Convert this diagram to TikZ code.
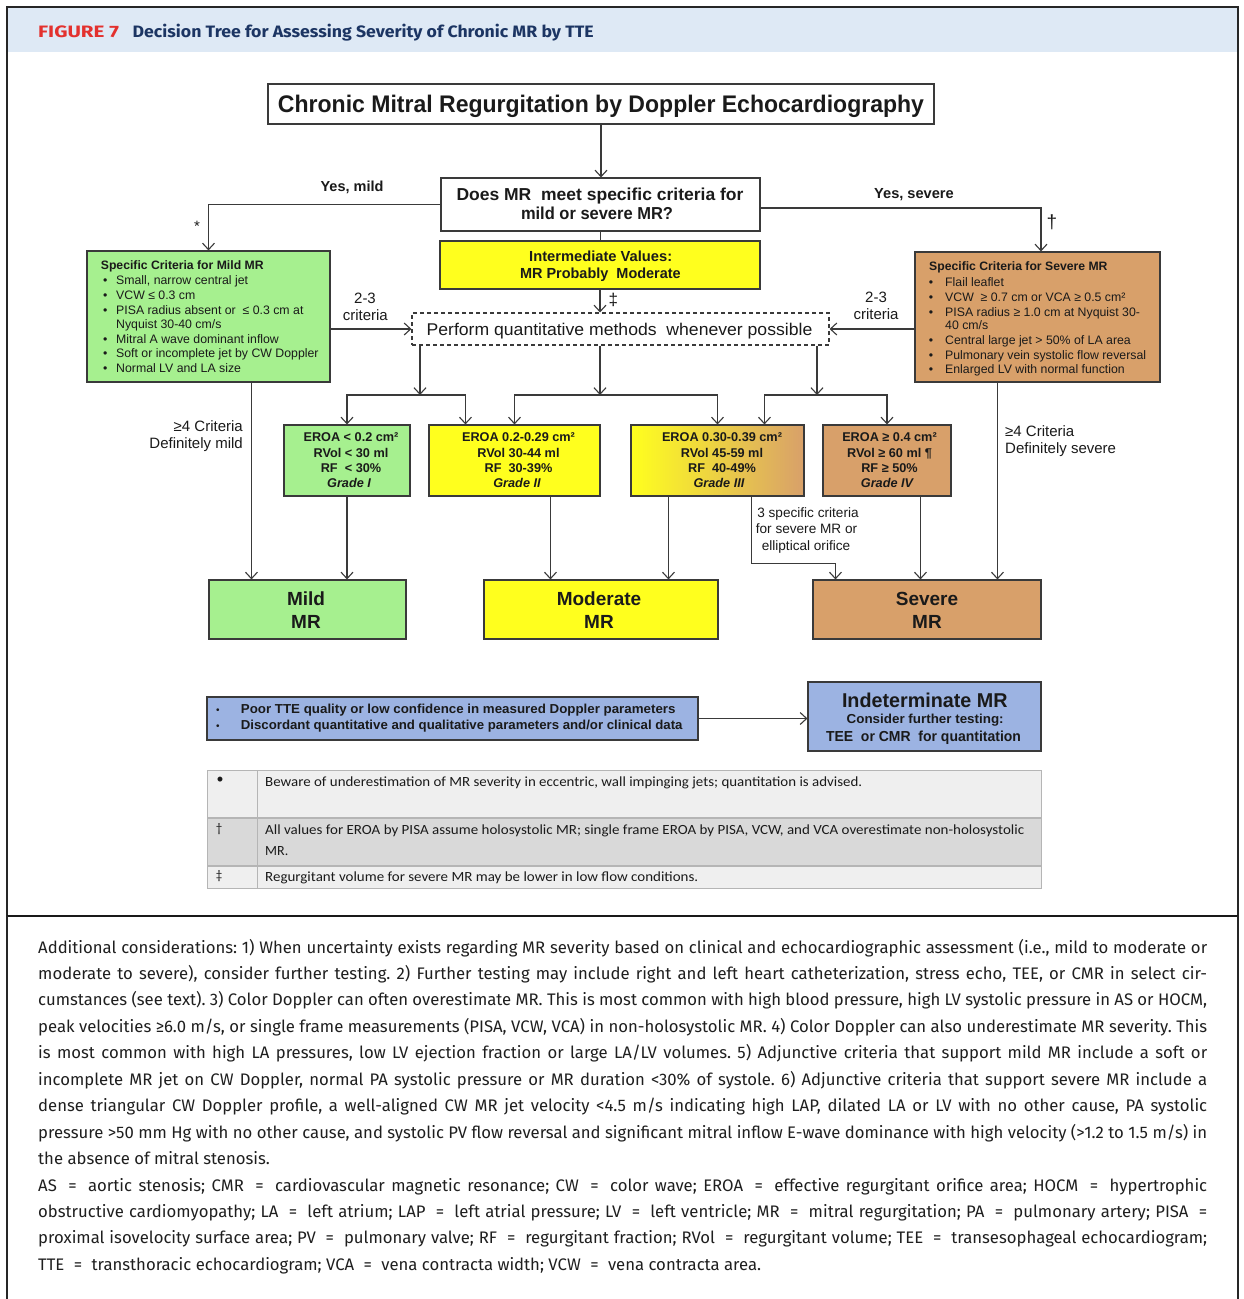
\documentclass[tikz,border=0pt]{standalone}
\usepackage{fontspec}
\usepackage{graphicx}
\setmainfont{Liberation Sans}
\newfontfamily\capfont{Fira Sans}
\newfontfamily\tabfont{Carlito}
\usetikzlibrary{arrows.meta,calc}

\definecolor{mrgreen}{HTML}{A6F08F}
\definecolor{mryellow}{HTML}{FFFF1E}
\definecolor{mrorange}{HTML}{D8A06A}
\definecolor{mrblue}{HTML}{9CB3E2}
\definecolor{hdband}{HTML}{DEE9F5}
\definecolor{hdred}{HTML}{E3312E}
\definecolor{hdnavy}{HTML}{1C3563}
\definecolor{lnc}{HTML}{3A3A3A}
\definecolor{txc}{HTML}{1A1A1A}
\definecolor{tabA}{HTML}{EFEFEF}
\definecolor{tabB}{HTML}{D9D9D9}
\definecolor{tabline}{HTML}{B5B5B5}

% stretch a line of text to a given width, keeping its height
\newcommand\fw[2]{\resizebox{#1pt}{\height}{#2}}
% bullet hanging to the left of a text line
\newcommand\bu[1]{\llap{\makebox[#1pt][l]{\textbullet}}}
% justified caption line
\newcommand\jl[1]{\hbox to 1169pt{\frenchspacing\spaceskip=0.25em plus 1fil minus 0.13em\relax #1}}
% spaced equals sign for the abbreviation list
\newcommand\eqs{\ \kern0.3em=\kern0.3em\ }

\tikzset{
  lnbase/.style={draw=lnc, line width=1.1pt},
  arr/.style={lnbase, -{Straight Barb[length=6.5pt,width=12pt]}},
  mrbox/.style={draw=lnc, line width=1.1pt, inner sep=0pt},
  sz/.style 2 args={minimum width=#1pt, minimum height=#2pt},
  tx/.style={inner sep=0pt, text=txc},
  lbl/.style={tx, font=\fontsize{15}{18}\selectfont},
  crit/.style={tx, anchor=base west, font=\fontsize{12.3}{14}\selectfont},
  grd/.style={tx, anchor=base, font=\bfseries\fontsize{12.7}{15}\selectfont},
  outc/.style={tx, anchor=base, font=\bfseries\fontsize{19}{22}\selectfont},
  tabtx/.style={tx, anchor=base west, font=\tabfont\fontsize{14}{16}\selectfont},
  capl/.style={inner sep=0pt, anchor=base west, text=black!88, font=\capfont\fontsize{16.7}{20}\selectfont\frenchspacing},
}

\begin{document}
\begin{tikzpicture}[x=1pt,y=-1pt]
\useasboundingbox (0,0) rectangle (1244,1299);
\fill[white] (0,0) rectangle (1244,1299);

% ---------- frame and header ----------
\fill[hdband] (8,8) rectangle (1237,52);
\draw[line width=1.4pt, black!85] (7,7) rectangle (1238,916);
\draw[line width=2.4pt, black!90] (7,916) -- (1238,916);
\draw[line width=1.4pt, black!85] (7,916) -- (7,1299) (1238,916) -- (1238,1299);

\node[inner sep=0pt, anchor=base west, text=hdred] (hfig) at (38,37)
  {\fw{80.8}{\capfont\bfseries\fontsize{16.5}{20}\selectfont FIGURE 7}};
\node[inner sep=0pt, anchor=base west, text=hdnavy] (htitle) at (132.5,37)
  {\fw{461}{\capfont\bfseries\fontsize{16.5}{20}\selectfont Decision Tree for Assessing Severity of Chronic MR by TTE}};

% ---------- boxes ----------
\node[mrbox, fill=white, sz={666}{40}] (title) at (601,104) {};
\node[mrbox, fill=white, sz={319}{53}] (q) at (600.5,204.5) {};
\node[mrbox, fill=mryellow, sz={320}{48}] (inter) at (600,265) {};
\node[mrbox, dash pattern=on 4pt off 3pt, sz={417}{32}] (quant) at (620.5,329) {};
\node[mrbox, fill=mrgreen, sz={243}{131}] (mildc) at (208.5,316.5) {};
\node[mrbox, fill=mrorange, sz={245}{130}] (sevc) at (1037.5,317) {};

\node[mrbox, fill=mrgreen, sz={126}{71}] (g1) at (347,460.5) {};
\node[mrbox, fill=mryellow, sz={171}{71}] (g2) at (514.5,460.5) {};
\node[mrbox, left color=mryellow, right color=mrorange, sz={173}{71}] (g3) at (717.5,460.5) {};
\node[mrbox, fill=mrorange, sz={128}{71}] (g4) at (887,460.5) {};

\node[mrbox, fill=mrgreen, sz={197}{59}] (mild) at (307.5,609.5) {};
\node[mrbox, fill=mryellow, sz={234}{59}] (moder) at (601,609.5) {};
\node[mrbox, fill=mrorange, sz={228}{59}] (severe) at (927,609.5) {};

\node[mrbox, fill=mrblue, sz={491}{43}] (blue) at (452.5,718.5) {};
\node[mrbox, fill=mrblue, sz={233}{69}] (indet) at (924.5,716.5) {};

% ---------- box texts ----------
\node[tx, anchor=base] (titleT) at (601,112.6)
  {\fw{646}{\bfseries\fontsize{24}{28}\selectfont Chronic Mitral Regurgitation by Doppler Echocardiography}};
\node[tx, anchor=base] (qT1) at (600,200.4)
  {\fw{287}{\bfseries\fontsize{17.3}{20}\selectfont Does MR\ \ meet specific criteria for}};
\node[tx, anchor=base] (qT2) at (597,219.4)
  {\fw{152}{\bfseries\fontsize{17.3}{20}\selectfont mild or severe MR?}};
\node[tx, anchor=base] (interT1) at (600.7,261.7)
  {\fw{143}{\bfseries\fontsize{14.6}{17}\selectfont Intermediate Values:}};
\node[tx, anchor=base] (interT2) at (600.4,278.3)
  {\fw{160.7}{\bfseries\fontsize{14.6}{17}\selectfont MR Probably\ \ Moderate}};
\node[tx, anchor=base] (quantT) at (619.5,335)
  {\fw{385.7}{\fontsize{17}{20}\selectfont Perform quantitative methods\ \ whenever possible}};

% criteria for mild MR
\node[crit, font=\bfseries\fontsize{12.2}{14}\selectfont] (mcT) at (100.7,269.5) {Specific Criteria for Mild MR};
\node[crit] (mc1) at (116,284) {\bu{13}Small, narrow central jet};
\node[crit] (mc2) at (116,299) {\bu{13}VCW ≤ 0.3 cm};
\node[crit] (mc3) at (116,314) {\bu{13}PISA radius absent or\ \ ≤ 0.3 cm at};
\node[crit] (mc4) at (116,328) {Nyquist 30-40 cm/s};
\node[crit] (mc5) at (116,343) {\bu{13}Mitral A wave dominant inflow};
\node[crit] (mc6) at (116,357.5) {\bu{13}Soft or incomplete jet by CW Doppler};
\node[crit] (mc7) at (116,372) {\bu{13}Normal LV and LA size};

% criteria for severe MR
\node[crit, font=\bfseries\fontsize{12.2}{14}\selectfont] (scT) at (929,270) {Specific Criteria for Severe MR};
\node[crit] (sc1) at (945,286) {\bu{16.4}Flail leaflet};
\node[crit] (sc2) at (945,301) {\bu{16.4}VCW\ \ ≥ 0.7 cm or VCA ≥ 0.5 cm²};
\node[crit] (sc3) at (945,316) {\bu{16.4}PISA radius ≥ 1.0 cm at Nyquist 30-};
\node[crit] (sc4) at (945,329.5) {40 cm/s};
\node[crit] (sc5) at (945,344) {\bu{16.4}Central large jet > 50\% of LA area};
\node[crit] (sc6) at (945,359) {\bu{16.4}Pulmonary vein systolic flow reversal};
\node[crit] (sc7) at (945,373) {\bu{16.4}Enlarged LV with normal function};

% grade boxes
\node[grd] (g1a) at (351,441.5) {EROA < 0.2 cm²};
\node[grd] (g1b) at (351,457) {RVol < 30 ml};
\node[grd] (g1c) at (351,472) {RF\ \ < 30\%};
\node[grd] (g1d) at (349,487) {\itshape Grade I};
\node[grd] (g2a) at (518.5,441.5) {EROA 0.2-0.29 cm²};
\node[grd] (g2b) at (518.5,457) {RVol 30-44 ml};
\node[grd] (g2c) at (518.5,472) {RF\ \ 30-39\%};
\node[grd] (g2d) at (517,487) {\itshape Grade II};
\node[grd] (g3a) at (722,441.5) {EROA 0.30-0.39 cm²};
\node[grd] (g3b) at (722,457) {RVol 45-59 ml};
\node[grd] (g3c) at (722,472) {RF\ \ 40-49\%};
\node[grd] (g3d) at (719,487) {\itshape Grade III};
\node[grd] (g4a) at (889.5,441.5) {EROA ≥ 0.4 cm²};
\node[grd] (g4b) at (889.5,457) {RVol ≥ 60 ml ¶};
\node[grd] (g4c) at (889.5,472) {RF ≥ 50\%};
\node[grd] (g4d) at (887,487) {\itshape Grade IV};

% outcome boxes
\node[outc] (mildT1) at (306,605.5) {Mild};
\node[outc] (mildT2) at (306,628.5) {MR};
\node[outc] (moderT1) at (599,605.5) {Moderate};
\node[outc] (moderT2) at (599,628.5) {MR};
\node[outc] (severeT1) at (927,605.5) {Severe};
\node[outc] (severeT2) at (927,628.5) {MR};

% indeterminate section
\node[tx, anchor=base west] (blue1) at (240.7,713.5)
  {\bu{24.8}\fw{434.6}{\bfseries\fontsize{13}{15}\selectfont Poor TTE quality or low confidence in measured Doppler parameters}};
\node[tx, anchor=base west] (blue2) at (240.7,729.5)
  {\bu{24.8}\fw{441.7}{\bfseries\fontsize{13}{15}\selectfont Discordant quantitative and qualitative parameters and/or clinical data}};
\node[tx, anchor=base] (indT1) at (924.8,707)
  {\fw{165.6}{\bfseries\fontsize{20}{23}\selectfont Indeterminate MR}};
\node[tx, anchor=base] (indT2) at (925.2,723.5)
  {\fw{157}{\bfseries\fontsize{13}{15}\selectfont Consider further testing:}};
\node[tx, anchor=base] (indT3) at (923.5,741)
  {\fw{195}{\bfseries\fontsize{14.5}{17}\selectfont TEE\ \ or CMR\ \ for quantitation}};

% ---------- connectors ----------
\draw[arr] (title.south) -- (q.north -| title.south);
\draw[arr] (q.west) -| (mildc.north);
\draw[arr] ([yshift=-3.5pt]q.east) -| ([xshift=3.5pt]sevc.north);
\draw[lnbase] (q.south) -- (q.south |- inter.north);
\draw[arr] (inter.south) -- (inter.south |- quant.north);
\draw[arr] (mildc.east |- quant.west) -- (quant.west);
\draw[arr] (sevc.west |- quant.east) -- (quant.east);

\coordinate (bA) at (420,395);
\coordinate (bB) at (600,395);
\coordinate (bC) at (817,395);
\draw[arr] (quant.south -| bA) -- (bA);
\draw[arr] (quant.south -| bB) -- (bB);
\draw[arr] (quant.south -| bC) -- (bC);
\draw[arr] (bA) -| (g1.north);
\draw[arr] (bA) -| ($(g2.north west)+(37,0)$);
\draw[arr] (bB) -| (g2.north);
\draw[arr] (bB) -| (g3.north);
\draw[arr] (bC) -| ($(g3.north west)+(134,0)$);
\draw[arr] (bC) -| (g4.north);

\coordinate (mA) at ($(mildc.south west)+(165,0)$);
\coordinate (g2o) at ($(g2.south west)+(122,0)$);
\coordinate (g3o) at ($(g3.south west)+(38,0)$);
\coordinate (g3s) at ($(g3.south west)+(121,0)$);
\coordinate (sevIn) at ($(severe.north west)+(23,0)$);
\coordinate (g4o) at ($(g4.south west)+(98,0)$);
\coordinate (sA) at ($(sevc.south west)+(83,0)$);
\draw[arr] (mA) -- (mA |- mild.north);
\draw[arr] (g1.south) -- (g1.south |- mild.north);
\draw[arr] (g2o) -- (g2o |- moder.north);
\draw[arr] (g3o) -- (g3o |- moder.north);
\draw[arr] (g3s) -- ++(0,67) -| (sevIn);
\draw[arr] (g4o) -- (g4o |- severe.north);
\draw[arr] (sA) -- (sA |- severe.north);
\draw[arr] (blue.east) -- (blue.east -| indet.west);

% ---------- connector labels ----------
\node[tx, anchor=base, font=\bfseries\fontsize{14.5}{17}\selectfont] (ymild) at (352,191) {Yes, mild};
\node[tx, anchor=base, font=\bfseries\fontsize{14.6}{17}\selectfont] (ysev) at (914,198) {Yes, severe};
\node[tx, font=\fontsize{15}{18}\selectfont] (star) at (197,226) {*};
\node[tx, font=\fontsize{19}{22}\selectfont] (dag) at (1052,222) {†};
\node[tx, font=\fontsize{17}{20}\selectfont] (ddag) at (613.3,300) {‡};
\node[lbl, anchor=base] (l23a) at (365,303) {2-3};
\node[lbl, anchor=base] (l23b) at (365.3,320.5) {criteria};
\node[lbl, anchor=base] (r23a) at (876,302) {2-3};
\node[lbl, anchor=base] (r23b) at (876,319.5) {criteria};
\node[lbl, anchor=base east] (dm1) at (243,431.5) {≥4 Criteria};
\node[lbl, anchor=base east] (dm2) at (243,448.5) {Definitely mild};
\node[lbl, anchor=base west] (ds1) at (1005,436) {≥4 Criteria};
\node[lbl, anchor=base west] (ds2) at (1005,453) {Definitely severe};
\node[tx, anchor=base, font=\fontsize{13.6}{16}\selectfont] (sp1) at (808,517) {3 specific criteria};
\node[tx, anchor=base, font=\fontsize{13.6}{16}\selectfont] (sp2) at (806.5,533.5) {for severe MR or};
\node[tx, anchor=base, font=\fontsize{13.6}{16}\selectfont] (sp3) at (806,550) {elliptical orifice};

% ---------- footnote table ----------
\fill[tabA] (207,770) rectangle (1041,818);
\fill[tabB] (207,818) rectangle (1041,866);
\fill[tabA] (207,866) rectangle (1041,888);
\draw[tabline, line width=0.8pt] (207,770) rectangle (1041,888);
\draw[tabline, line width=1.6pt] (207,818) -- (1041,818) (207,866) -- (1041,866);
\draw[tabline, line width=0.8pt] (257,770) -- (257,888);
\node[tx, font=\tabfont\fontsize{14}{16}\selectfont] (t1s) at (220,780) {•};
\node[tx, font=\tabfont\fontsize{13}{16}\selectfont] (t2s) at (219,829) {†};
\node[tx, font=\tabfont\fontsize{13}{16}\selectfont] (t3s) at (219,876.5) {‡};
\node[tabtx] (t1) at (265,786.5)
  {\fw{597}{Beware of underestimation of MR severity in eccentric, wall impinging jets; quantitation is advised.}};
\node[tabtx] (t2a) at (265,834.5)
  {\fw{759}{All values for EROA by PISA assume holosystolic MR; single frame EROA by PISA, VCW, and VCA overestimate non-holosystolic}};
\node[tabtx] (t2b) at (265,855.5) {MR.};
\node[tabtx] (t3) at (265,881.5)
  {\fw{433}{Regurgitant volume for severe MR may be lower in low flow conditions.}};

% ---------- caption ----------
\node[capl] (cap1) at (38,953) {\jl{Additional considerations: 1) When uncertainty exists regarding MR severity based on clinical and echocardiographic assessment (i.e., mild to moderate or}};
\node[capl] (cap2) at (38,979.45) {\jl{moderate to severe), consider further testing. 2) Further testing may include right and left heart catheterization, stress echo, TEE, or CMR in select cir-}};
\node[capl] (cap3) at (38,1005.9) {\jl{cumstances (see text). 3) Color Doppler can often overestimate MR. This is most common with high blood pressure, high LV systolic pressure in AS or HOCM,}};
\node[capl] (cap4) at (38,1032.35) {\jl{peak velocities ≥6.0 m/s, or single frame measurements (PISA, VCW, VCA) in non-holosystolic MR. 4) Color Doppler can also underestimate MR severity. This}};
\node[capl] (cap5) at (38,1058.8) {\jl{is most common with high LA pressures, low LV ejection fraction or large LA/LV volumes. 5) Adjunctive criteria that support mild MR include a soft or}};
\node[capl] (cap6) at (38,1085.25) {\jl{incomplete MR jet on CW Doppler, normal PA systolic pressure or MR duration <30\% of systole. 6) Adjunctive criteria that support severe MR include a}};
\node[capl] (cap7) at (38,1111.7) {\jl{dense triangular CW Doppler profile, a well-aligned CW MR jet velocity <4.5 m/s indicating high LAP, dilated LA or LV with no other cause, PA systolic}};
\node[capl] (cap8) at (38,1138.15) {\jl{pressure >50 mm Hg with no other cause, and systolic PV flow reversal and significant mitral inflow E-wave dominance with high velocity (>1.2 to 1.5 m/s) in}};
\node[capl] (cap9) at (38,1164.6) {the absence of mitral stenosis.};
\node[capl] (cap10) at (38,1191.05) {\jl{AS\eqs aortic stenosis; CMR\eqs cardiovascular magnetic resonance; CW\eqs color wave; EROA\eqs effective regurgitant orifice area; HOCM\eqs hypertrophic}};
\node[capl] (cap11) at (38,1217.5) {\jl{obstructive cardiomyopathy; LA\eqs left atrium; LAP\eqs left atrial pressure; LV\eqs left ventricle; MR\eqs mitral regurgitation; PA\eqs pulmonary artery; PISA\ \kern0.3em=}};
\node[capl] (cap12) at (38,1243.95) {\jl{proximal isovelocity surface area; PV\eqs pulmonary valve; RF\eqs regurgitant fraction; RVol\eqs regurgitant volume; TEE\eqs transesophageal echocardiogram;}};
\node[capl] (cap13) at (38,1270.4) {TTE\eqs transthoracic echocardiogram; VCA\eqs vena contracta width; VCW\eqs vena contracta area.};
\end{tikzpicture}
\end{document}
